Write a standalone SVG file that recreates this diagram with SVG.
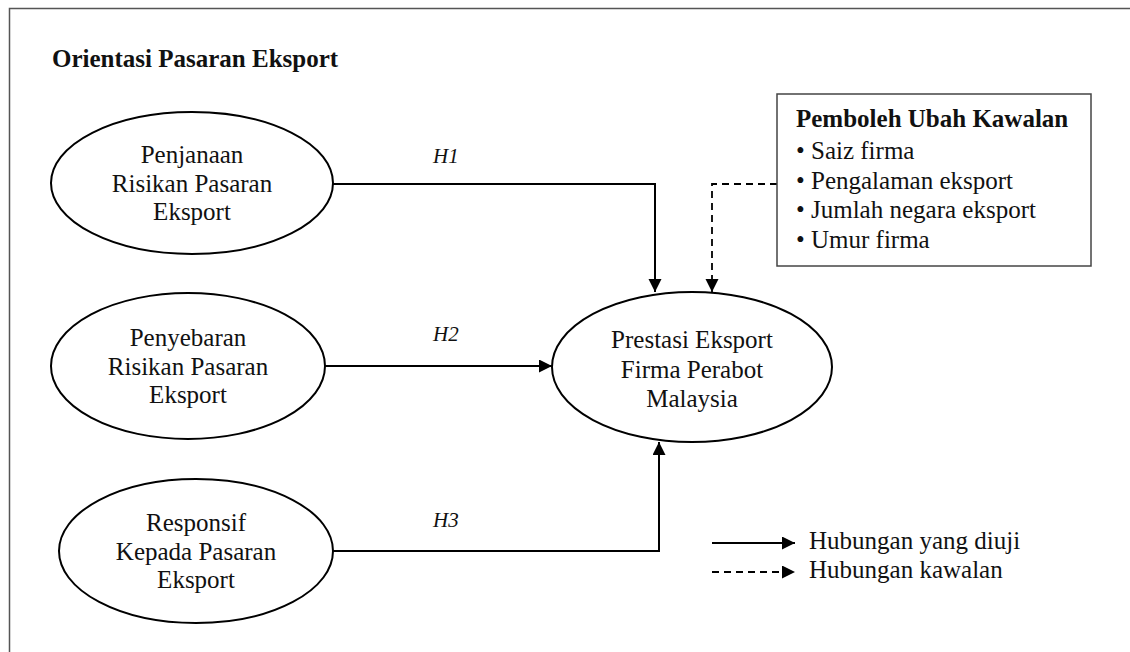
<svg xmlns="http://www.w3.org/2000/svg" width="1130" height="652" viewBox="0 0 1130 652">
<style>
text{font-family:"Liberation Serif","Times New Roman",serif;font-size:25px;fill:#111}
.b{font-weight:bold}
.c{text-anchor:middle}
.h{font-style:italic;font-size:21px}
.node{fill:#fff;stroke:#000;stroke-width:2}
.ln{fill:none;stroke:#000;stroke-width:2}
.ds{fill:none;stroke:#000;stroke-width:1.8;stroke-dasharray:7 5}
</style>
<defs>
<marker id="ah" markerUnits="userSpaceOnUse" markerWidth="14" markerHeight="14" refX="13" refY="6.5" orient="auto">
<path d="M0,0 L13,6.5 L0,13 z" fill="#000"/>
</marker>
</defs>
<rect x="9.5" y="8.5" width="1140" height="660" fill="none" stroke="#555" stroke-width="1.5"/>
<text id="title" class="b" x="52" y="67">Orientasi Pasaran Eksport</text>
<g id="connectors">
<polyline class="ln" points="333,184 655,184 655,292" marker-end="url(#ah)"/>
<polyline class="ds" points="777,184 712,184 712,292" marker-end="url(#ah)"/>
<line class="ln" x1="325" y1="366" x2="552" y2="366" marker-end="url(#ah)"/>
<polyline class="ln" points="333,551 659,551 659,442" marker-end="url(#ah)"/>
<text class="h" x="433" y="163">H1</text>
<text class="h" x="433" y="341">H2</text>
<text class="h" x="433" y="527">H3</text>
</g>
<g id="n1">
<ellipse class="node" cx="192" cy="183" rx="141" ry="71"/>
<text class="c" x="192" y="163">Penjanaan</text>
<text class="c" x="192" y="192">Risikan Pasaran</text>
<text class="c" x="192" y="220">Eksport</text>
</g>
<g id="n2">
<ellipse class="node" cx="188" cy="366" rx="137" ry="73"/>
<text class="c" x="188" y="346">Penyebaran</text>
<text class="c" x="188" y="375">Risikan Pasaran</text>
<text class="c" x="188" y="403">Eksport</text>
</g>
<g id="n3">
<ellipse class="node" cx="196" cy="551" rx="137" ry="72"/>
<text class="c" x="196" y="531">Responsif</text>
<text class="c" x="196" y="560">Kepada Pasaran</text>
<text class="c" x="196" y="588">Eksport</text>
</g>
<g id="n4">
<ellipse class="node" cx="692" cy="367" rx="140" ry="75"/>
<text class="c" x="692" y="348">Prestasi Eksport</text>
<text class="c" x="692" y="378">Firma Perabot</text>
<text class="c" x="692" y="407">Malaysia</text>
</g>
<g id="control">
<rect x="777" y="94" width="314" height="172" fill="#fff" stroke="#444" stroke-width="1.5"/>
<text class="b" x="796" y="127">Pemboleh Ubah Kawalan</text>
<text x="796" y="159">• Saiz firma</text>
<text x="796" y="189">• Pengalaman eksport</text>
<text x="796" y="218">• Jumlah negara eksport</text>
<text x="796" y="248">• Umur firma</text>
</g>
<g id="legend">
<line class="ln" x1="712" y1="543" x2="795" y2="543" marker-end="url(#ah)"/>
<line class="ds" x1="712" y1="572" x2="795" y2="572" marker-end="url(#ah)"/>
<text x="809" y="549">Hubungan yang diuji</text>
<text x="809" y="578">Hubungan kawalan</text>
</g>
</svg>
